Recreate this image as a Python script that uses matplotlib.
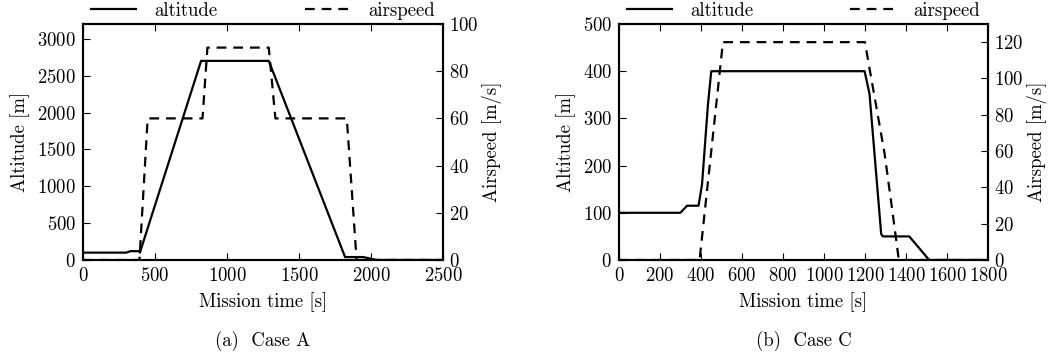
import matplotlib
matplotlib.use('Agg')
import matplotlib.pyplot as plt

# Case A
alt_a_t = [0, 300, 330, 390, 395, 820, 1290, 1820, 1945, 2040, 2500]
alt_a = [100, 100, 120, 120, 100, 2700, 2700, 40, 40, 0, 0]
spd_a_t = [0, 392, 449, 830, 864, 1290, 1336, 1832, 1900, 2500]
spd_a = [0, 0, 60, 60, 90, 90, 60, 60, 0, 0]

# Case C
alt_c_t = [0, 299, 332, 388, 405, 434, 450, 1198, 1222, 1279, 1287, 1416, 1513, 1800]
alt_c = [100, 100, 115, 115, 160, 330, 400, 400, 352, 55, 50, 50, 0, 0]
spd_c_t = [0, 393, 507, 1200, 1215, 1295, 1330, 1365, 1800]
spd_c = [0, 0, 120, 120, 110, 59, 30, 0, 0]

plt.rcParams['font.family'] = ['cmr10', 'DejaVu Serif']
plt.rcParams['mathtext.fontset'] = 'cm'
plt.rcParams['axes.formatter.use_mathtext'] = True
plt.rcParams['font.size'] = 13.5
plt.rcParams['axes.linewidth'] = 1.5
plt.rcParams['lines.scale_dashes'] = False

dash = (0, (7, 5))


def draw_case(rect, t_alt, alt, t_spd, spd, xticks, alt_ticks, spd_ticks, alt_top, spd_top, caption):
    ax = fig.add_axes(rect)
    ax2 = ax.twinx()
    l1, = ax.plot(t_alt, alt, color='black', lw=1.6, label='altitude')
    l2, = ax2.plot(t_spd, spd, color='black', lw=1.6, linestyle=dash, label='airspeed')
    ax.set_xlim(xticks[0], xticks[-1])
    ax.set_xticks(xticks)
    ax.set_yticks(alt_ticks)
    ax2.set_yticks(spd_ticks)
    ax.set_ylim(0, alt_top)
    ax2.set_ylim(0, spd_top)
    ax.set_xlabel('Mission time [s]', labelpad=5)
    ax.set_ylabel('Altitude [m]', labelpad=5)
    ax2.set_ylabel('Airspeed [m/s]', labelpad=3)
    ax.tick_params(direction='in', length=5, top=True, pad=5)
    ax2.tick_params(direction='in', length=5, pad=4)
    ax.legend([l1, l2], ['altitude', 'airspeed'], loc='lower left',
              bbox_to_anchor=(0, 0.985, 1, 0.1), mode='expand', ncol=2,
              frameon=False, borderaxespad=0, handlelength=2.4, handletextpad=1.0)
    cx = rect[0] + rect[2] / 2
    fig.text(cx, 1 - 341 / 364, caption, ha='center', va='center', fontsize=13.5)
    return ax


fig = plt.figure(figsize=(10.62, 3.64), dpi=100)

draw_case([83 / 1062, 1 - 260 / 364, 360 / 1062, 236 / 364],
          alt_a_t, alt_a, spd_a_t, spd_a,
          [0, 500, 1000, 1500, 2000, 2500], list(range(0, 3001, 500)), list(range(0, 101, 20)),
          3200, 100, '(a)  Case A')
draw_case([619 / 1062, 1 - 260 / 364, 369 / 1062, 236 / 364],
          alt_c_t, alt_c, spd_c_t, spd_c,
          list(range(0, 1801, 200)), list(range(0, 501, 100)), list(range(0, 121, 20)),
          500, 130, '(b)  Case C')

fig.savefig('out.png', dpi=100)
